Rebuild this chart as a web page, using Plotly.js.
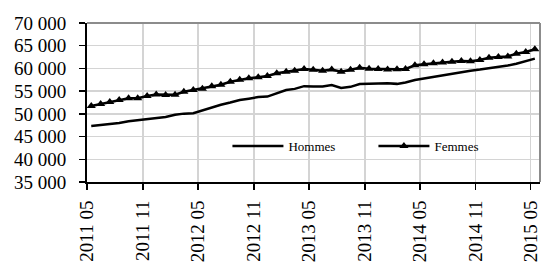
<!DOCTYPE html>
<html>
<head>
<meta charset="utf-8">
<script src="https://cdn.plot.ly/plotly-3.0.1.min.js"></script>
<style>
  html, body { margin: 0; padding: 0; background: #fff; }
  #chart { width: 542px; height: 265px; }
</style>
</head>
<body>
<div id="chart"></div>
<script>
// Months (monthly observations, 2011-05 .. 2015-05)
const months = [
  '2011-05','2011-06','2011-07','2011-08','2011-09','2011-10','2011-11','2011-12',
  '2012-01','2012-02','2012-03','2012-04','2012-05','2012-06','2012-07','2012-08',
  '2012-09','2012-10','2012-11','2012-12','2013-01','2013-02','2013-03','2013-04',
  '2013-05','2013-06','2013-07','2013-08','2013-09','2013-10','2013-11','2013-12',
  '2014-01','2014-02','2014-03','2014-04','2014-05','2014-06','2014-07','2014-08',
  '2014-09','2014-10','2014-11','2014-12','2015-01','2015-02','2015-03','2015-04',
  '2015-05'
];

const hommes = [
  47330, 47500, 47650, 47980, 48350, 48550, 48800, 49050,
  49300, 49800, 50050, 50150, 50800, 51450, 52000, 52500,
  53050, 53350, 53700, 53800, 54600, 55250, 55500, 56100,
  56000, 56000, 56350, 55700, 55950, 56550, 56650, 56700,
  56750, 56600, 56900, 57450, 57800, 58150, 58500, 58850,
  59250, 59500, 59750, 60000, 60300, 60650, 61050, 61550,
  62150
];

const femmes = [
  51730, 52170, 52610, 53050, 53420, 53420, 53930, 54250,
  54150, 54200, 54850, 55250, 55500, 56050, 56400, 57050,
  57500, 57820, 58050, 58330, 58920, 59280, 59500, 59870,
  59720, 59500, 59750, 59280, 59720, 60130, 59950, 59900,
  59750, 59800, 59870, 60680, 60900, 61130, 61300, 61480,
  61640, 61600, 61860, 62350, 62500, 62650, 63250, 63620,
  64210
];

const seriesNames = ['Hommes', 'Femmes'];

const xDates = months.map(m => m + '-15');

const FONT = '"Liberation Serif", "Times New Roman", serif';

const traces = [
  {
    x: xDates, y: hommes, name: seriesNames[0], type: 'scatter', mode: 'lines',
    line: { color: '#000000', width: 2.5 }
  },
  {
    x: xDates, y: femmes, name: seriesNames[1], type: 'scatter', mode: 'lines+markers',
    line: { color: '#000000', width: 2.5 },
    marker: { symbol: 'triangle-up', size: 8, color: '#000000' }
  }
];

const layout = {
  width: 542, height: 265,
  margin: { l: 87, r: 2, t: 23, b: 83, pad: 0 },
  paper_bgcolor: '#ffffff', plot_bgcolor: '#ffffff',
  separators: ', ',
  font: { family: FONT, color: '#000000', size: 19 },
  showlegend: true,
  legend: {
    orientation: 'h', x: 0.31, xanchor: 'left', y: 0.226, yanchor: 'middle',
    bgcolor: 'rgba(0,0,0,0)', borderwidth: 0,
    font: { family: FONT, size: 13, color: '#000000' },
    itemwidth: 51, entrywidth: 80
  },
  xaxis: {
    type: 'date',
    range: ['2011-05-01', '2015-06-01'],
    tick0: '2011-05-01', dtick: 'M6', tickformat: '%Y %m',
    tickangle: -90,
    showgrid: true, gridcolor: '#d4d4d4', gridwidth: 1.5,
    showline: true, linecolor: '#000000', linewidth: 2,
    ticks: 'outside', ticklen: 6, tickcolor: '#000000', tickwidth: 1.5,
    ticklabelstandoff: 3,
    tickfont: { family: FONT, size: 19, color: '#000000' },
    zeroline: false, fixedrange: true
  },
  yaxis: {
    range: [35000, 70000], dtick: 5000, tick0: 35000, tickformat: ',d',
    showgrid: true, gridcolor: '#d4d4d4', gridwidth: 1.5,
    showline: true, linecolor: '#000000', linewidth: 2,
    ticks: 'outside', ticklen: 6, tickcolor: '#000000', tickwidth: 1.5,
    ticklabelstandoff: 9,
    tickfont: { family: FONT, size: 19, color: '#000000' },
    zeroline: false, fixedrange: true
  },
  shapes: [
    // legend white background (between grid and traces)
    { type: 'rect', xref: 'paper', yref: 'paper', x0: 0.232, x1: 0.929, y0: 0.063, y1: 0.377,
      fillcolor: '#ffffff', line: { width: 0 }, layer: 'between' },
    // top and right frame lines (grey)
    { type: 'line', xref: 'paper', yref: 'paper', x0: 0, x1: 1, y0: 1, y1: 1,
      line: { color: '#8c8c8c', width: 2 }, layer: 'above' },
    { type: 'line', xref: 'paper', yref: 'paper', x0: 1, x1: 1, y0: 0, y1: 1,
      line: { color: '#8c8c8c', width: 2 }, layer: 'above' }
  ]
};

Plotly.newPlot('chart', traces, layout, { displayModeBar: false, staticPlot: true });
</script>
</body>
</html>
